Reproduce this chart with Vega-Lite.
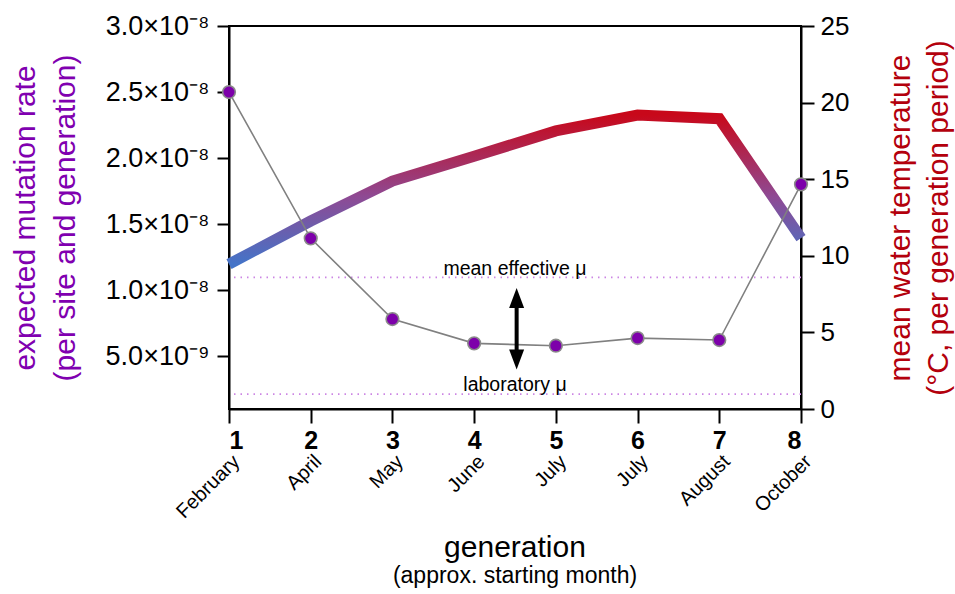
{
  "$schema": "https://vega.github.io/schema/vega-lite/v6.json",
  "autosize": "none",
  "width": 572,
  "height": 383,
  "padding": {"left": 229, "top": 26, "right": 154, "bottom": 185},
  "background": "white",
  "config": {
    "font": "Liberation Sans",
    "view": {"stroke": "black", "strokeWidth": 2},
    "axis": {"grid": false, "domainColor": "black", "domainWidth": 2, "tickColor": "black", "tickWidth": 2, "labelColor": "black", "labelFont": "Liberation Sans", "titleFont": "Liberation Sans", "titleFontWeight": "normal"}
  },
  "title": {
    "text": "generation",
    "subtitle": "(approx. starting month)",
    "orient": "bottom",
    "anchor": "middle",
    "fontSize": 30,
    "fontWeight": "normal",
    "subtitleFontSize": 23,
    "subtitleColor": "black",
    "color": "black",
    "font": "Liberation Sans",
    "subtitleFont": "Liberation Sans",
    "offset": 11,
    "subtitlePadding": 2
  },
  "datasets": {
    "gens": [
      {"gen": 1, "month": "February", "mu": 2.5e-8, "temp": 9.46},
      {"gen": 2, "month": "April", "mu": 1.392e-8, "temp": 12.27},
      {"gen": 3, "month": "May", "mu": 7.81e-9, "temp": 14.88},
      {"gen": 4, "month": "June", "mu": 5.97e-9, "temp": 16.5},
      {"gen": 5, "month": "July", "mu": 5.79e-9, "temp": 18.15},
      {"gen": 6, "month": "July", "mu": 6.37e-9, "temp": 19.19},
      {"gen": 7, "month": "August", "mu": 6.22e-9, "temp": 18.95},
      {"gen": 8, "month": "October", "mu": 1.801e-8, "temp": 11.16}
    ],
    "refs": [
      {"label": "mean effective μ", "mu": 1.097e-8, "textmu": 1.16e-8, "gen": 4.5},
      {"label": "laboratory μ", "mu": 2.13e-9, "textmu": 2.82e-9, "gen": 4.5}
    ],
    "arrow": [
      {"gen": 4.52, "top": 9.0e-9, "bottom": 5.2e-9, "headUp": 9.4e-9, "headDown": 4.75e-9}
    ]
  },
  "resolve": {"scale": {"y": "independent"}, "axis": {"x": "independent", "y": "independent"}},
  "layer": [
    {
      "data": {"name": "gens"},
      "mark": {
        "type": "line",
        "strokeWidth": 11,
        "strokeCap": "butt",
        "strokeJoin": "miter",
        "stroke": {
          "gradient": "linear",
          "x1": 0, "y1": 1, "x2": 0, "y2": 0,
          "stops": [
            {"offset": 0, "color": "#4474c8"},
            {"offset": 0.45, "color": "#8e4a94"},
            {"offset": 1, "color": "#c8081a"}
          ]
        }
      },
      "encoding": {
        "x": {
          "field": "gen", "type": "quantitative",
          "scale": {"domain": [1, 8], "nice": false, "zero": false},
          "axis": {"orient": "bottom", "values": [1, 2, 3, 4, 5, 6, 7, 8], "format": "d", "title": null, "tickSize": 14, "labelFontSize": 25, "labelFontWeight": "bold", "labelPadding": 5, "domain": true}
        },
        "y": {
          "field": "temp", "type": "quantitative",
          "scale": {"domain": [0, 25], "nice": false, "zero": true},
          "axis": {"orient": "right", "values": [0, 5, 10, 15, 20, 25], "tickSize": 13, "labelFontSize": 26, "labelPadding": 6, "title": ["mean water temperature", "(°C, per generation period)"], "titleAngle": -90, "titleFontSize": 30, "titleLineHeight": 38, "titleColor": "#b3000c", "titlePadding": 29}
        }
      }
    },
    {
      "layer": [
        {
          "data": {"name": "refs"},
          "mark": {"type": "rule", "color": "#cc85e4", "strokeWidth": 1.6, "strokeDash": [1.5, 5]},
          "encoding": {
            "y": {"field": "mu", "type": "quantitative"}
          }
        },
        {
          "data": {"name": "gens"},
          "mark": {"type": "line", "color": "#808080", "strokeWidth": 1.6},
          "encoding": {
            "x": {
              "field": "gen", "type": "quantitative",
              "scale": {"domain": [1, 8], "nice": false, "zero": false},
              "axis": {"orient": "bottom", "values": [1, 2, 3, 4, 5, 6, 7, 8], "labelExpr": "['February','April','May','June','July','July','August','October'][datum.value - 1]", "labelAngle": -45, "labelFontSize": 20, "domain": false, "ticks": false, "offset": 42, "labelPadding": 0, "title": null}
            },
            "y": {
              "field": "mu", "type": "quantitative",
              "scale": {"domain": [1e-9, 3e-8], "nice": false, "zero": false},
              "axis": {"orient": "left", "values": [5e-9, 1e-8, 1.5e-8, 2e-8, 2.5e-8, 3e-8], "labelExpr": "datum.value < 7e-9 ? '5.0×10⁻⁹' : format(datum.value * 1e8, '.1f') + '×10⁻⁸'", "tickSize": 12, "labelFontSize": 27, "labelPadding": 8, "title": ["expected mutation rate", "(per site and generation)"], "titleFontSize": 30, "titleLineHeight": 40, "titleColor": "#8000b0", "titlePadding": 25}
            }
          }
        },
        {
          "data": {"name": "gens"},
          "mark": {"type": "point", "filled": true, "fill": "#7d00aa", "stroke": "#8a8a8a", "strokeWidth": 1.6, "size": 160, "opacity": 1},
          "encoding": {
            "x": {"field": "gen", "type": "quantitative"},
            "y": {"field": "mu", "type": "quantitative"}
          }
        },
        {
          "data": {"name": "refs"},
          "mark": {"type": "text", "fontSize": 19.5, "color": "black", "align": "center", "baseline": "middle"},
          "encoding": {
            "x": {"field": "gen", "type": "quantitative"},
            "y": {"field": "textmu", "type": "quantitative"},
            "text": {"field": "label"}
          }
        },
        {
          "data": {"name": "arrow"},
          "mark": {"type": "rule", "color": "black", "strokeWidth": 4},
          "encoding": {
            "x": {"field": "gen", "type": "quantitative"},
            "y": {"field": "top", "type": "quantitative"},
            "y2": {"field": "bottom"}
          }
        },
        {
          "data": {"name": "arrow"},
          "mark": {"type": "point", "filled": true, "color": "black", "opacity": 1, "shape": "M0,-1L0.75,1L-0.75,1Z", "size": 400},
          "encoding": {
            "x": {"field": "gen", "type": "quantitative"},
            "y": {"field": "headUp", "type": "quantitative"}
          }
        },
        {
          "data": {"name": "arrow"},
          "mark": {"type": "point", "filled": true, "color": "black", "opacity": 1, "shape": "M0,1L0.75,-1L-0.75,-1Z", "size": 400},
          "encoding": {
            "x": {"field": "gen", "type": "quantitative"},
            "y": {"field": "headDown", "type": "quantitative"}
          }
        }
      ]
    }
  ]
}
